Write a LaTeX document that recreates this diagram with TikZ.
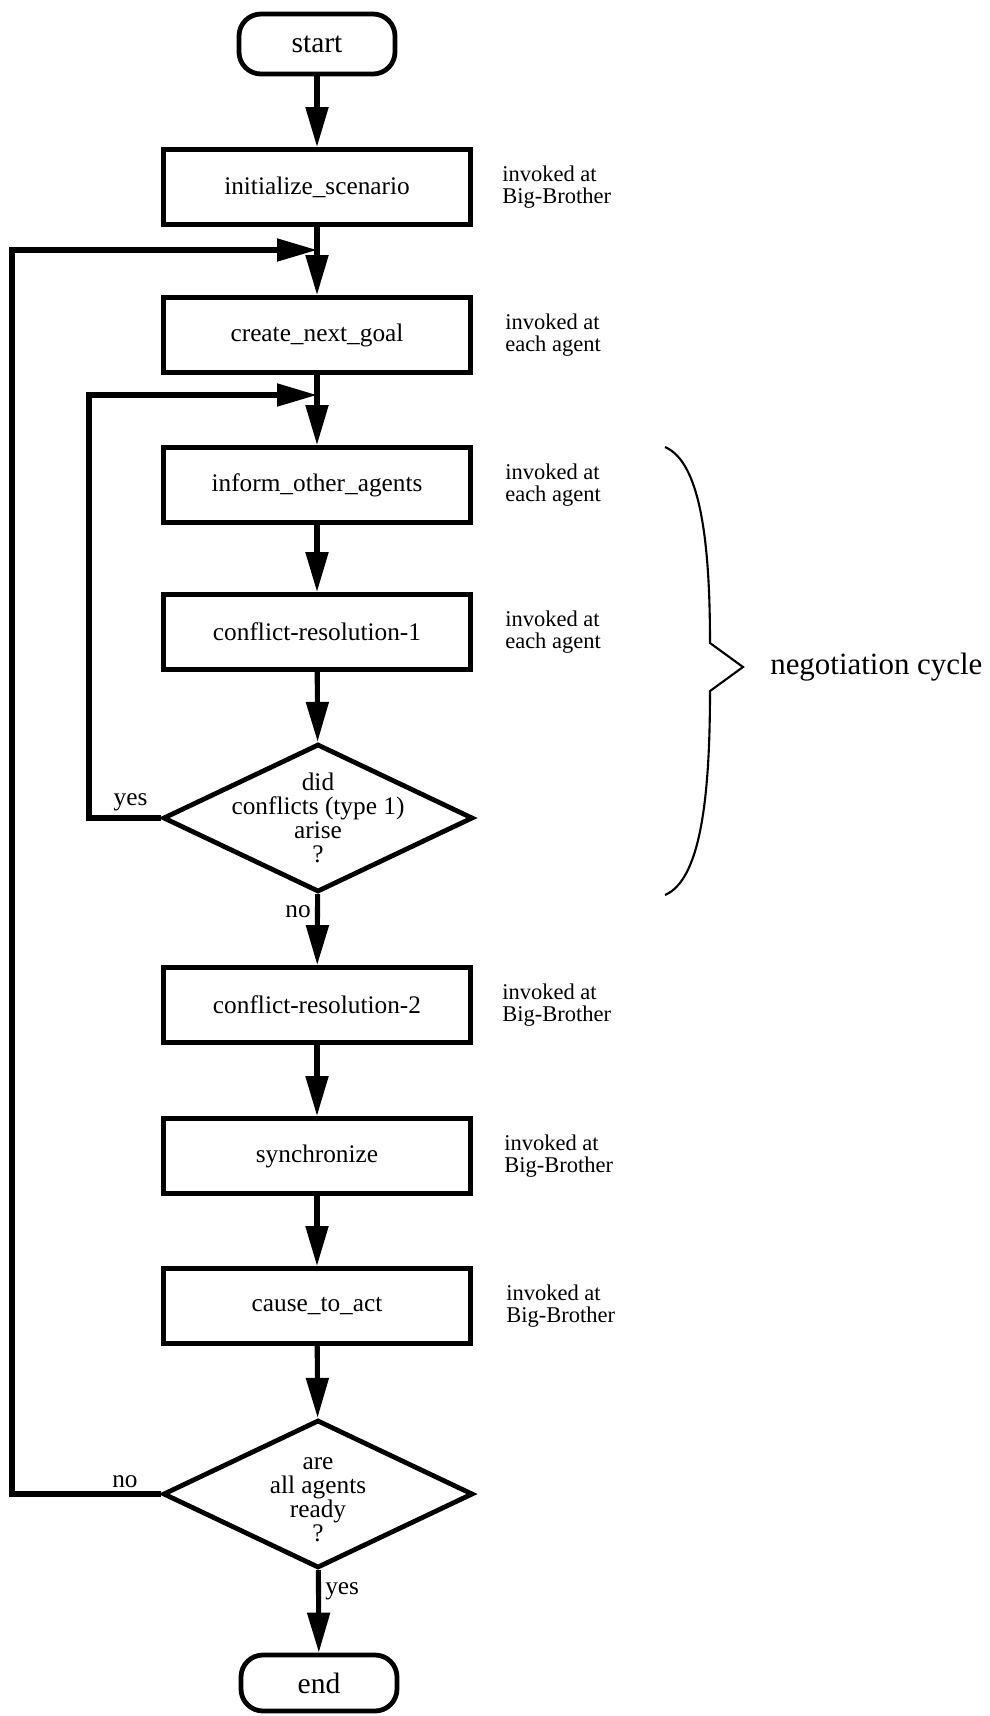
\documentclass[tikz,border=0pt]{standalone}
\usepackage{fontspec}
\setmainfont{Liberation Serif}
\usetikzlibrary{arrows.meta, shapes.geometric}

\begin{document}
\begin{tikzpicture}[x=0.25mm, y=-0.25mm, >={Triangle[length=10mm, width=5.5mm]},
    process/.style={draw, line width=3.4pt, minimum width=76.75mm, minimum height=18.75mm,
      inner sep=0pt, font=\fontsize{18}{20}\selectfont},
    terminal/.style={draw, line width=3.4pt, rounded corners=5.5mm, minimum width=39mm,
      minimum height=15mm, inner sep=0pt, font=\fontsize{21}{24}\selectfont},
    decision/.style={draw, diamond, line width=3.4pt, minimum width=77.5mm,
      minimum height=37mm, inner sep=0pt},
    qtext/.style={font=\fontsize{18}{17}\selectfont, align=center, inner sep=0pt},
    note/.style={anchor=west, align=left, inner sep=0pt, font=\fontsize{16}{15.5}\selectfont},
    flow/.style={->, line width=3.6pt},
    lbl/.style={font=\fontsize{18}{20}\selectfont, inner sep=3pt}]
  \useasboundingbox (0,0) rectangle (990,1716);

  % main column
  \node[terminal] (start) at (317,44) {start};
  \node[process] (init) at (317,187) {initialize\_scenario};
  \node[process] (create) at (317,335) {create\_next\_goal};
  \node[process] (inform) at (317,485) {inform\_other\_agents};
  \node[process] (cr1) at (317,632) {conflict-resolution-1};
  \node[decision, label={[qtext]center:{did\\conflicts (type 1)\\arise\\?}}] (conflicts) at (318,818) {};
  \node[process] (cr2) at (317,1005) {conflict-resolution-2};
  \node[process] (sync) at (317,1156) {synchronize};
  \node[process] (cause) at (317,1306) {cause\_to\_act};
  \node[decision, label={[qtext, yshift=-4pt]center:{are\\all agents\\ready\\?}}] (ready) at (318,1494) {};
  \node[terminal, minimum height=14mm] (end) at (319,1683) {end};

  % where the loops come in
  \coordinate (join1) at (317,250);
  \coordinate (join2) at (317,395);
  \coordinate (outerleft) at (12,0);
  \coordinate (innerleft) at (89,0);

  % notes
  \node[note] (n1) at (502,187) {invoked at\\Big-Brother};
  \node[note] (n2) at (505,335) {invoked at\\each agent};
  \node[note] (n3) at (505,485) {invoked at\\each agent};
  \node[note] (n4) at (505,632) {invoked at\\each agent};
  \node[note] (n5) at (502,1005) {invoked at\\Big-Brother};
  \node[note] (n6) at (504,1156) {invoked at\\Big-Brother};
  \node[note] (n7) at (506,1306) {invoked at\\Big-Brother};

  % flow
  \draw[flow] (start) -- (init);
  \draw[flow] (init) -- (create);
  \draw[flow] (create) -- (inform);
  \draw[flow] (inform) -- (cr1);
  \draw[flow] (cr1) -- (conflicts);
  \draw[flow] (conflicts) -- node[lbl, left, pos=0.24] {no} (cr2);
  \draw[flow] (cr2) -- (sync);
  \draw[flow] (sync) -- (cause);
  \draw[flow] (cause) -- (ready);
  \draw[flow] (ready) -- node[lbl, right, pos=0.25] {yes} (end);

  % loops back
  \draw[flow] (conflicts.west) -- node[lbl, above, pos=0.42] {yes} (conflicts.west -| innerleft)
    |- (join2);
  \draw[flow] (ready.west) -- node[lbl, above, pos=0.24] {no} (ready.west -| outerleft)
    |- (join1);

  % negotiation cycle brace
  \draw[line width=1.5pt] (665,447) .. controls (700,462) and (710,540) .. (710,643)
    -- (743,667) -- (710,691) .. controls (710,800) and (700,880) .. (665,895);
  \node[anchor=west, inner sep=0pt, font=\fontsize{22}{26}\selectfont] (cycle) at (770,667) {negotiation cycle};
\end{tikzpicture}
\end{document}
